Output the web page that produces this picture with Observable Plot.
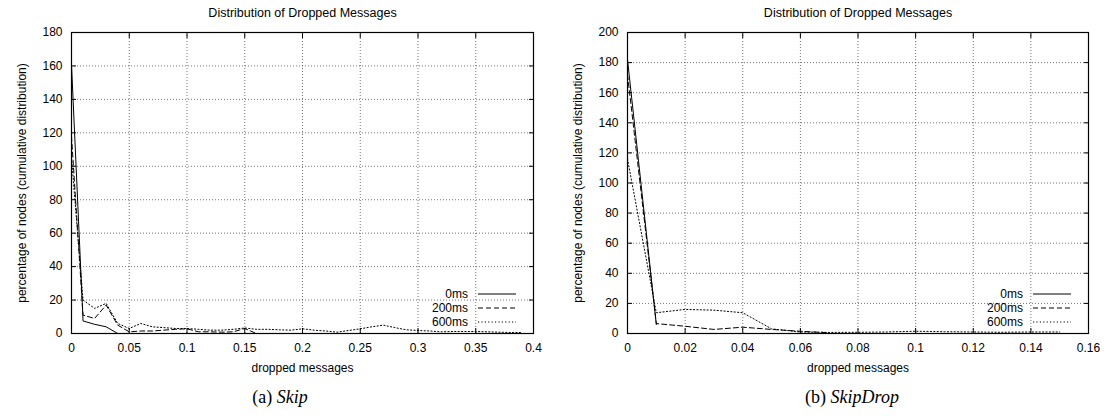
<!DOCTYPE html>
<html>
<head>
<meta charset="utf-8">
<script src="https://cdn.jsdelivr.net/npm/d3@7"></script>
<script src="https://cdn.jsdelivr.net/npm/@observablehq/plot@0.6"></script>
<style>
  html, body { margin: 0; padding: 0; background: #fff; }
  #wrap { display: flex; width: 1119px; height: 418px; }
  .col { position: relative; }
  .caption { font-family: "Liberation Serif", "Times New Roman", serif; font-size: 18px; color: #000; line-height: 20px; white-space: nowrap; }
  .caption span { display: inline-block; transform: translateX(-50%); }
  .legend { position: absolute; left: 0; top: 0; pointer-events: none; }
</style>
</head>
<body>
<div id="wrap">
  <div class="col" id="colA" style="width:560px"></div>
  <div class="col" id="colB" style="width:559px"></div>
</div>
<script>
// ---------- data ----------
const seriesNames = ["0ms", "200ms", "600ms"];
const chartTitle = "Distribution of Dropped Messages";
const xLabel = "dropped messages";
const yLabel = "percentage of nodes (cumulative distribution)";

// (a) Skip
const skipX0 = [0, 0.01, 0.02, 0.03, 0.04];
const skipY0 = [161, 7.5, 5.5, 4, 0];
const skipX200 = [0, 0.01, 0.02, 0.03, 0.04, 0.05, 0.06, 0.07, 0.08, 0.09, 0.10, 0.11, 0.12, 0.13, 0.14, 0.15, 0.16];
const skipY200 = [118, 11, 9, 17, 5, 1, 1.5, 1.5, 2, 2.5, 2.8, 1, 1, 0.8, 1, 3, 0];
const skipX600 = [0, 0.01, 0.02, 0.03, 0.04, 0.05, 0.06, 0.07, 0.08, 0.09, 0.10, 0.11, 0.12, 0.13, 0.14, 0.15, 0.16, 0.17, 0.18, 0.19, 0.20, 0.21, 0.22, 0.23, 0.24, 0.25, 0.26, 0.27, 0.28, 0.29, 0.30, 0.31, 0.32, 0.33, 0.34, 0.35, 0.36, 0.37, 0.38, 0.39];
const skipY600 = [105, 20, 15, 18, 6, 3, 6, 4, 3.5, 3, 3, 2.5, 2, 2, 2.5, 3.3, 2.5, 2.5, 2.2, 2, 2.8, 2, 1.5, 0.8, 1.8, 2.8, 4, 5, 3.5, 2.2, 1.8, 1.5, 1, 1.2, 1.2, 1.2, 1, 0.8, 0.6, 0.6];
const skipXTicks = [0, 0.05, 0.1, 0.15, 0.2, 0.25, 0.3, 0.35, 0.4];
const skipYTicks = [0, 20, 40, 60, 80, 100, 120, 140, 160, 180];

// (b) SkipDrop
const dropX0 = [0, 0.01];
const dropY0 = [182, 6];
const dropX200 = [0, 0.01, 0.02, 0.03, 0.04, 0.05, 0.06, 0.07];
const dropY200 = [172, 6.6, 4.8, 2.7, 4.2, 2.7, 1.5, 0.5];
const dropX600 = [0, 0.01, 0.02, 0.03, 0.04, 0.05, 0.06, 0.07, 0.08, 0.09, 0.10, 0.11, 0.12, 0.13, 0.14, 0.15];
const dropY600 = [116, 13.8, 16, 15.5, 13.8, 3.1, 1, 0.7, 0.8, 1, 1.5, 1.2, 1, 0.8, 1, 1];
const dropXTicks = [0, 0.02, 0.04, 0.06, 0.08, 0.1, 0.12, 0.14, 0.16];
const dropYTicks = [0, 20, 40, 60, 80, 100, 120, 140, 160, 180, 200];

const dashes = ["none", "5,3", "1.2,2.2"];

function pts(xs, ys) { return xs.map((x, i) => ({x, y: ys[i]})); }

function makeChart(el, opts) {
  const {width, height, mL, mR, mT, mB, xTicks, yTicks, series, caption, capCenter} = opts;
  const grid = {stroke: "#000", strokeOpacity: 0.55, strokeDasharray: "1,2", strokeWidth: 1};
  const svg = Plot.plot({
    width, height,
    marginLeft: mL, marginRight: mR, marginTop: mT, marginBottom: mB,
    x: {domain: [xTicks[0], xTicks[xTicks.length - 1]]},
    y: {domain: [yTicks[0], yTicks[yTicks.length - 1]]},
    style: {fontFamily: "'Liberation Sans', Arial, sans-serif", fontSize: "12px", color: "#000", background: "#fff"},
    marks: [
      Plot.gridX({ticks: xTicks.slice(1, -1), ...grid}),
      Plot.gridY({ticks: yTicks.slice(1, -1), ...grid}),
      Plot.axisX({ticks: xTicks, tickSize: -5, tickPadding: 15, tickFormat: d => String(d),
        label: xLabel, labelAnchor: "center", labelArrow: "none", labelOffset: 38, fontSize: 12}),
      Plot.axisX({ticks: xTicks, anchor: "top", tickSize: -5, tickFormat: () => "", label: null}),
      Plot.axisY({ticks: yTicks, tickSize: -5, tickPadding: 14, tickFormat: d => String(d),
        label: yLabel, labelAnchor: "center", labelArrow: "none", labelOffset: 54, fontSize: 12}),
      Plot.axisY({ticks: yTicks, anchor: "right", tickSize: -5, tickFormat: () => "", label: null}),
      ...series.map((s, i) => Plot.line(pts(s.xs, s.ys), {x: "x", y: "y", stroke: "#000", strokeWidth: 1, strokeDasharray: dashes[i]})),
      Plot.frame({stroke: "#000", strokeWidth: 1.2}),
      Plot.text([chartTitle], {frameAnchor: "top", lineAnchor: "middle", dy: -20, fontSize: 12.5})
    ]
  });
  el.appendChild(svg);

  // legend (inside bottom-right of the frame)
  const right = width - mR;
  const lg = d3.select(el).append("svg").attr("class", "legend")
    .attr("width", width).attr("height", height);
  const rowY = [height - mB - 39, height - mB - 25, height - mB - 11];
  seriesNames.forEach((name, i) => {
    lg.append("text").attr("x", right - 65).attr("y", rowY[i]).attr("dy", "0.35em")
      .attr("text-anchor", "end").attr("font-family", "'Liberation Sans', Arial, sans-serif")
      .attr("font-size", 12).text(name);
    lg.append("line").attr("x1", right - 55).attr("x2", right - 17)
      .attr("y1", rowY[i]).attr("y2", rowY[i]).attr("stroke", "#000").attr("stroke-width", 1)
      .attr("stroke-dasharray", dashes[i]);
  });

  const cap = document.createElement("div");
  cap.className = "caption";
  cap.style.marginTop = "7px";
  cap.style.paddingLeft = capCenter + "px";
  const span = document.createElement("span");
  span.innerHTML = caption;
  cap.appendChild(span);
  el.appendChild(cap);
}

makeChart(document.getElementById("colA"), {
  width: 560, height: 380, mL: 71, mR: 27, mT: 32, mB: 47,
  xTicks: skipXTicks, yTicks: skipYTicks,
  series: [{xs: skipX0, ys: skipY0}, {xs: skipX200, ys: skipY200}, {xs: skipX600, ys: skipY600}],
  caption: "(a) <i>Skip</i>", capCenter: 280
});
makeChart(document.getElementById("colB"), {
  width: 559, height: 380, mL: 67, mR: 31, mT: 32, mB: 47,
  xTicks: dropXTicks, yTicks: dropYTicks,
  series: [{xs: dropX0, ys: dropY0}, {xs: dropX200, ys: dropY200}, {xs: dropX600, ys: dropY600}],
  caption: "(b) <i>SkipDrop</i>", capCenter: 292
});
</script>
</body>
</html>
